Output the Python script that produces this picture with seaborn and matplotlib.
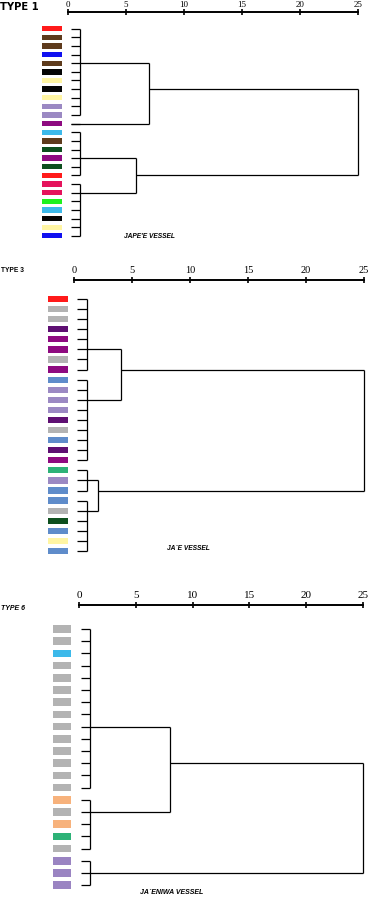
import numpy as np
import matplotlib
matplotlib.use("Agg")
import matplotlib.pyplot as plt
import seaborn as sns

sns.set_style("white")
plt.rcParams['font.family'] = ['Liberation Sans', 'DejaVu Sans']

# colours
RED = '#ff1a1a'
BROWN = '#5e3b1c'
BLUE = '#1010f0'
BLACK = '#050505'
YELLOW = '#fff5a3'
LAV = '#9b89c3'
PURPLE = '#8e0a80'
DPURPLE = '#5e0f72'
CYAN = '#3cb9ea'
DGREEN = '#0d4f1e'
CRIMSON = '#e5135c'
LGREEN = '#1ef21e'
GRAY = '#b3b3b3'
SBLUE = '#5f8cca'
TEAL = '#2db277'
ORANGE = '#f7b27c'
VIOLET = '#9a84c2'

# TYPE 1 - JAPE'E VESSEL
type1_colors = [RED, BROWN, BROWN, BLUE, BROWN, BLACK, YELLOW, BLACK, YELLOW, LAV, LAV,
                PURPLE, CYAN, BROWN, DGREEN, PURPLE, DGREEN, RED, CRIMSON, CRIMSON, LGREEN,
                CYAN, BLACK, YELLOW, BLUE]
type1_groups = [(0, 10, 4), (11, 11, 11), (12, 17, 15), (18, 24, 19)]  # first, last, anchor leaf
type1_merges = [(0, 1, 7.0), (2, 3, 5.9), (4, 5, 25.0)]  # node a, node b, distance

# TYPE 3 - JA'E VESSEL
type3_colors = [RED, GRAY, GRAY, DPURPLE, PURPLE, PURPLE, GRAY, PURPLE, SBLUE, LAV, LAV, LAV,
                DPURPLE, GRAY, SBLUE, DPURPLE, PURPLE, TEAL, LAV, SBLUE, SBLUE, GRAY, DGREEN,
                SBLUE, YELLOW, SBLUE]
type3_groups = [(0, 7, 5), (8, 16, 10), (17, 19, 18), (20, 25, 21)]
type3_merges = [(0, 1, 4.05), (2, 3, 2.1), (4, 5, 25.0)]

# TYPE 6 - JA'ENIWA VESSEL
type6_colors = [GRAY, GRAY, CYAN] + [GRAY] * 11 + [ORANGE, GRAY, ORANGE, TEAL, GRAY] + [VIOLET] * 3
type6_groups = [(0, 13, 8), (14, 18, 15), (19, 21, 20)]
type6_merges = [(0, 1, 8.0), (3, 2, 25.0)]

ticks = [0, 5, 10, 15, 20, 25]

W, H = 369, 898
fig = plt.figure(figsize=(W / 100, H / 100), dpi=100)


def dendro(left, right, top, leaf0, step, colors, groups, merges,
           leaf_x, comb_x, sw, tick_fs, pad):
    n = len(colors)
    bottom = leaf0 + n * step
    ax = fig.add_axes([left / W, 1 - bottom / H, (right - left) / W, (bottom - top) / H])
    ax.set_xlim(0, 25)
    ax.set_ylim(n, -(leaf0 - top) / step)
    sns.despine(ax=ax, left=True, bottom=True, right=True, top=False)
    ax.spines['top'].set_linewidth(1.4)
    ax.spines['top'].set_color('black')
    ax.xaxis.set_ticks_position('top')
    ax.set_xticks(ticks)
    ax.set_xticklabels([str(t) for t in ticks], family='Liberation Serif', fontsize=tick_fs)
    ax.tick_params(axis='x', direction='inout', length=4, width=1.2, pad=pad, colors='black')
    ax.set_yticks([])

    kw = dict(color='black', lw=0.9, clip_on=False, solid_capstyle='butt')
    # colour swatches
    ax.barh(np.arange(n), sw[1] - sw[0], left=sw[0], height=0.62, color=colors,
            edgecolor='none', clip_on=False)

    nodes = []  # (anchor row, distance)
    for first, last, anchor in groups:
        for i in range(first, last + 1):
            ax.plot([leaf_x, comb_x], [i, i], **kw)
        if last > first:
            ax.plot([comb_x, comb_x], [first, last], **kw)
            nodes.append((anchor, comb_x))
        else:
            nodes.append((anchor, leaf_x))
    for a, b, d in merges:
        ya, xa = nodes[a]
        yb, xb = nodes[b]
        ax.plot([xa, d], [ya, ya], **kw)
        ax.plot([xb, d], [yb, yb], **kw)
        ax.plot([d, d], [ya, yb], **kw)
        nodes.append(((ya + yb) // 2, d))
    return ax


dendro(68, 358, 12, 28.7, 8.63, type1_colors, type1_groups, type1_merges,
       0.26, 1.03, (-2.24, -0.52), 6.5, 0.3)
dendro(74, 364, 280, 299, 10.08, type3_colors, type3_groups, type3_merges,
       0.26, 1.12, (-2.24, -0.52), 7.5, 1.5)
dendro(79, 363, 605, 629, 12.2, type6_colors, type6_groups, type6_merges,
       0.18, 0.97, (-2.29, -0.70), 8, 1.5)


def label(x, y, s, **kw):
    fig.text(x / W, 1 - y / H, s, va='center', ha='left', color='black', **kw)


label(0, 7, "TYPE 1", fontsize=7.2, fontweight='bold', family=['DejaVu Sans'])
label(1, 271, "TYPE 3", fontsize=4.8, fontweight='bold')
label(1, 609, "TYPE 6", fontsize=5, fontweight='bold', style='italic')
label(124, 237, "JAPE'E VESSEL", fontsize=4.8, fontweight='bold', style='italic')
label(167, 548, "JA\u00b4E VESSEL", fontsize=4.8, fontweight='bold', style='italic')
label(140, 893, "JA\u00b4ENIWA VESSEL", fontsize=5, fontweight='bold', style='italic')

fig.savefig("out.png", dpi=100)
